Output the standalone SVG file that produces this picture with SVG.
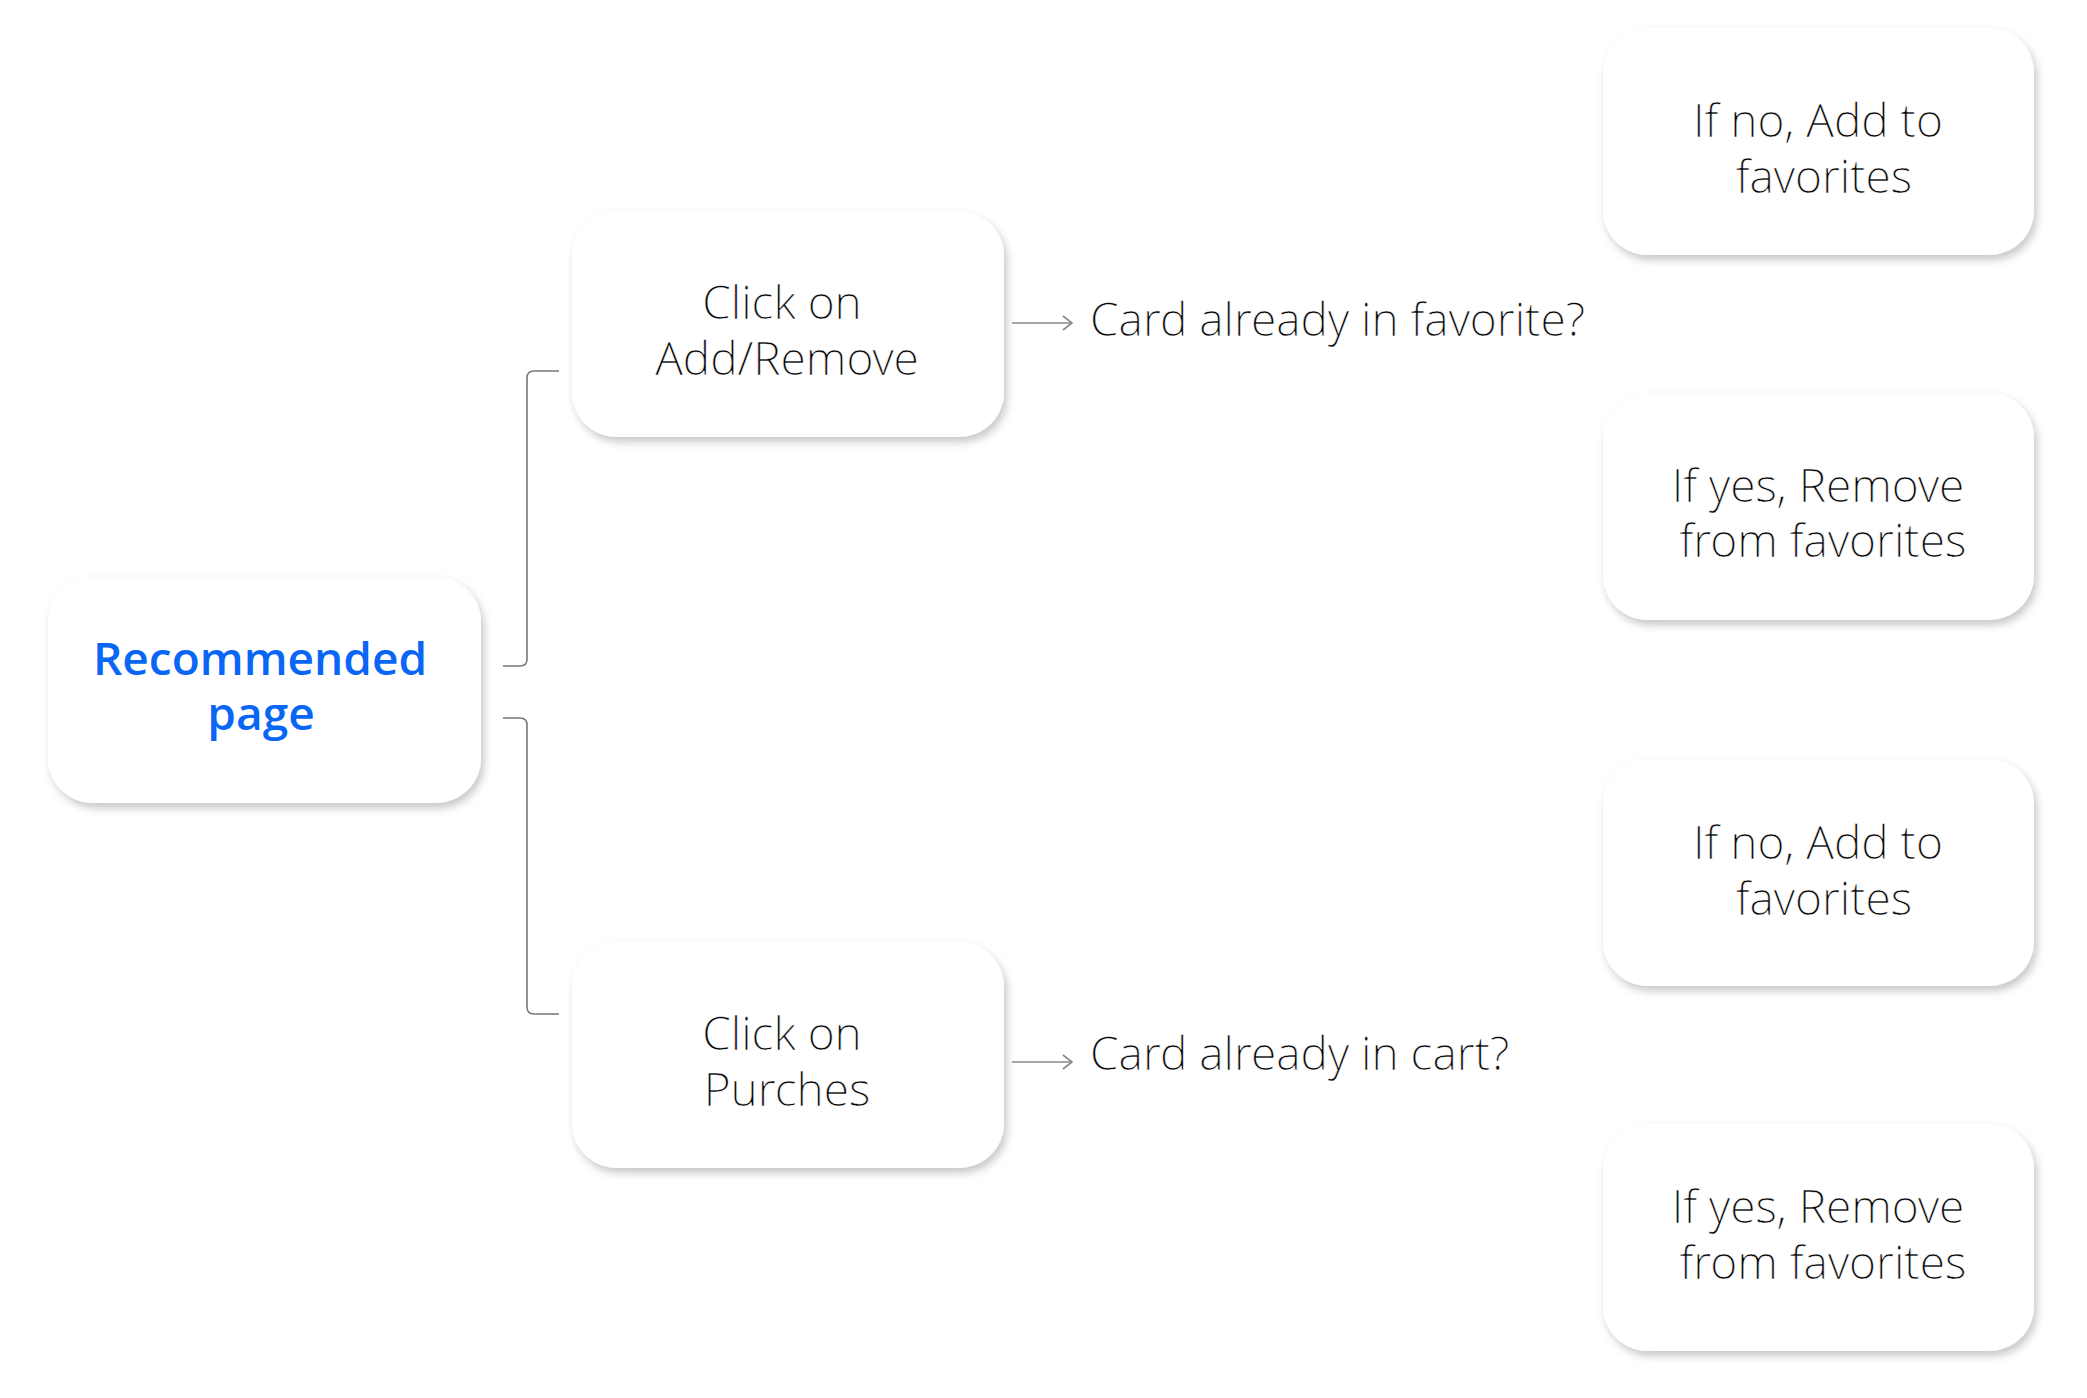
<svg xmlns="http://www.w3.org/2000/svg" width="2087" height="1398" viewBox="0 0 2087 1398">
  <defs>
    <filter id="shadow" x="-10%" y="-10%" width="125%" height="130%">
      <feDropShadow dx="3" dy="5" stdDeviation="4" flood-color="#000" flood-opacity="0.22"/>
    </filter>
    <marker id="arrow" markerWidth="16" markerHeight="16" refX="13" refY="8" orient="auto" markerUnits="userSpaceOnUse">
      <path d="M4,1 L13,8 L4,15" fill="none" stroke="#888" stroke-width="1.6"/>
    </marker>
    <style>
      .box { fill: #ffffff; filter: url(#shadow); }
      .t { font-family: "Open Sans Light", "Open Sans", "Noto Sans", sans-serif; font-weight: 300; font-size: 46px; fill: #000; stroke: #fff; stroke-width: 0.5; text-anchor: middle; }
      .q { font-family: "Open Sans Light", "Open Sans", "Noto Sans", sans-serif; font-weight: 300; font-size: 46px; fill: #000; stroke: #fff; stroke-width: 0.5; }
      .main { font-family: "Open Sans", "Noto Sans", sans-serif; font-weight: 600; font-size: 46px; fill: #0a66f5; text-anchor: middle; }
      .conn { fill: none; stroke: #777; stroke-width: 1.6; }
      .arr { fill: none; stroke: #888; stroke-width: 1.6; }
    </style>
  </defs>
  <rect width="2087" height="1398" fill="#ffffff"/>

  <g id="connectors">
    <path class="conn" d="M503,666 H520 Q527,666 527,659 V378 Q527,371 534,371 H559"/>
    <path class="conn" d="M503,718 H520 Q527,718 527,725 V1007 Q527,1014 534,1014 H559"/>
    <line class="arr" x1="1012" y1="323" x2="1072" y2="323" marker-end="url(#arrow)"/>
    <line class="arr" x1="1012" y1="1062" x2="1072" y2="1062" marker-end="url(#arrow)"/>
  </g>

  <g id="node-recommended">
    <rect class="box" x="48" y="577" width="433" height="226" rx="45"/>
    <text class="main" x="260" y="675">Recommended</text>
    <text class="main" x="261" y="730">page</text>
  </g>

  <g id="node-add-remove">
    <rect class="box" x="572" y="211" width="432" height="226" rx="45"/>
    <text class="t" x="782" y="319">Click on</text>
    <text class="t" x="787" y="375">Add/Remove</text>
  </g>

  <g id="node-purches">
    <rect class="box" x="572" y="942" width="432" height="226" rx="45"/>
    <text class="t" x="782" y="1050">Click on</text>
    <text class="t" x="787" y="1106">Purches</text>
  </g>

  <g id="label-favorite">
    <text class="q" x="1090" y="336">Card already in favorite?</text>
  </g>

  <g id="label-cart">
    <text class="q" x="1090" y="1070">Card already in cart?</text>
  </g>

  <g id="node-no-fav-1">
    <rect class="box" x="1603" y="28" width="431" height="227" rx="45"/>
    <text class="t" x="1818" y="137">If no, Add to</text>
    <text class="t" x="1824" y="193">favorites</text>
  </g>

  <g id="node-yes-fav-1">
    <rect class="box" x="1603" y="393" width="431" height="227" rx="45"/>
    <text class="t" x="1818" y="502">If yes, Remove</text>
    <text class="t" x="1823" y="557">from favorites</text>
  </g>

  <g id="node-no-fav-2">
    <rect class="box" x="1603" y="759" width="431" height="227" rx="45"/>
    <text class="t" x="1818" y="859">If no, Add to</text>
    <text class="t" x="1824" y="915">favorites</text>
  </g>

  <g id="node-yes-fav-2">
    <rect class="box" x="1603" y="1124" width="431" height="227" rx="45"/>
    <text class="t" x="1818" y="1223">If yes, Remove</text>
    <text class="t" x="1823" y="1279">from favorites</text>
  </g>
</svg>
